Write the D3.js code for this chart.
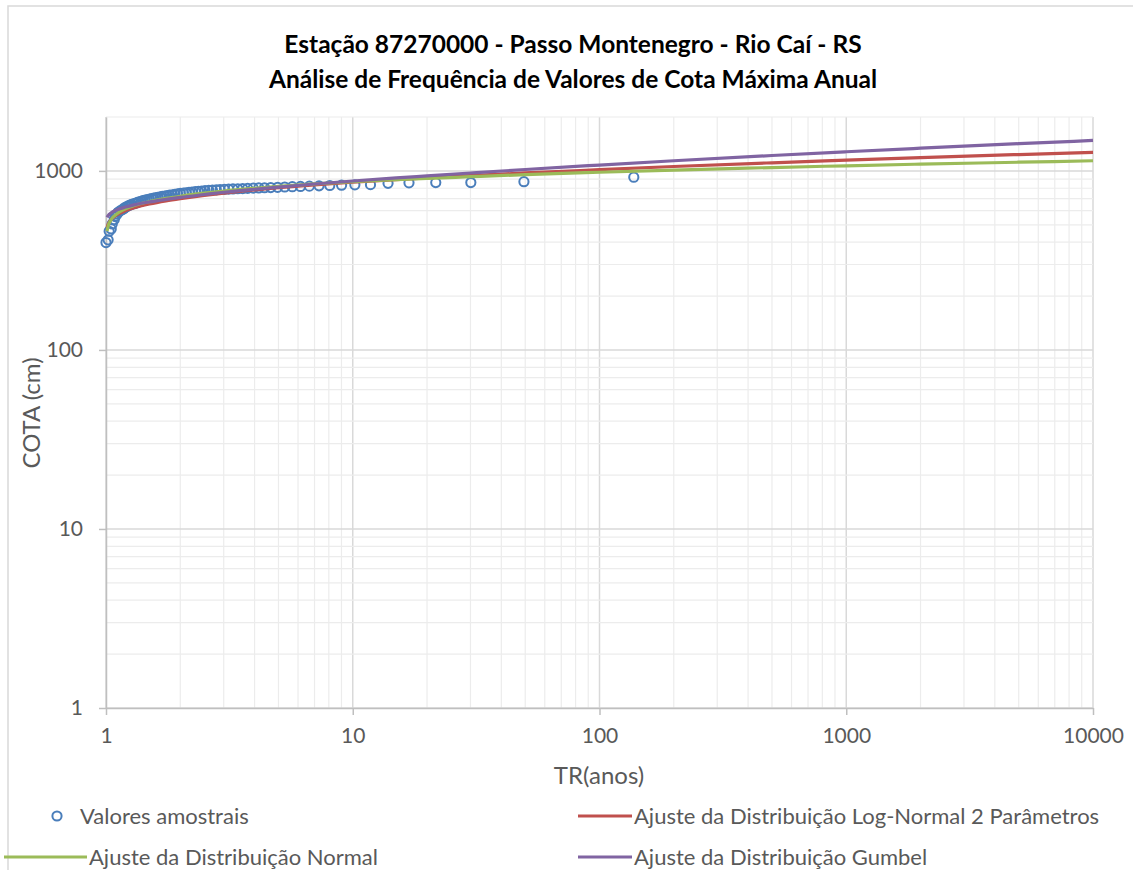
<!DOCTYPE html>
<html>
<head>
<meta charset="utf-8">
<script src="https://cdn.jsdelivr.net/npm/d3@7/dist/d3.min.js"></script>
<style>
  body { margin: 0; background: #fff; }
  svg { display: block; font-family: Lato, "Open Sans", sans-serif; }
</style>
</head>
<body>
<svg id="chart" width="1133" height="870"></svg>
<script>
// Valores amostrais (TR em anos, cota em cm)
const trAmostra = [1.00, 1.02, 1.03, 1.05, 1.06, 1.08, 1.09, 1.11, 1.12, 1.14, 1.16, 1.18, 1.19, 1.21,
  1.23, 1.25, 1.27, 1.30, 1.32, 1.34, 1.36, 1.39, 1.41, 1.44, 1.47, 1.50, 1.53, 1.56, 1.59, 1.62,
  1.66, 1.69, 1.73, 1.77, 1.81, 1.86, 1.90, 1.95, 2.00, 2.06, 2.11, 2.17, 2.23, 2.30, 2.37, 2.44,
  2.52, 2.61, 2.70, 2.80, 2.90, 3.02, 3.14, 3.27, 3.42, 3.58, 3.75, 3.95, 4.16, 4.39, 4.65, 4.96,
  5.30, 5.69, 6.14, 6.67, 7.30, 8.07, 9.01, 10.2, 11.8, 13.9, 16.9, 21.7, 30.1, 49.4, 137.7];
const cotaAmostra = [398, 412, 460, 474, 505, 535, 556, 574, 587, 598, 606, 614, 622, 630,
  638, 644, 650, 656, 661, 666, 672, 677, 682, 686, 691, 695, 700, 704, 708, 712,
  716, 720, 724, 728, 732, 736, 740, 744, 748, 751, 755, 758, 762, 765, 768, 772,
  775, 778, 781, 784, 787, 789, 791, 793, 795, 797, 799, 801, 803, 805, 807, 810,
  813, 816, 819, 822, 825, 829, 832, 836, 838, 852, 858, 860, 861, 870, 922];

// Curvas ajustadas
const trAjuste = [1.01, 1.02, 1.05, 1.1, 1.2, 1.3, 1.5, 1.75, 2, 2.5, 3, 4, 5, 7, 10, 15, 20, 30,
  50, 100, 200, 500, 1000, 2000, 5000, 10000];
const cotaLogNormal = [482, 503, 536, 565, 600, 622, 653, 680, 700, 730, 752, 783, 805, 836, 864,
  894, 914, 941, 974, 1016, 1058, 1110, 1148, 1186, 1234, 1269];
const cotaNormal = [461, 491, 535, 572, 614, 640, 674, 702, 722, 751, 772, 800, 820, 846, 870,
  893, 908, 928, 953, 983, 1011, 1044, 1068, 1091, 1118, 1139];
const cotaGumbel = [550, 563, 584, 604, 628, 646, 671, 693, 711, 738, 760, 790, 812, 845, 878,
  914, 938, 973, 1018, 1078, 1139, 1219, 1279, 1339, 1419, 1479];

const xTicks = [1, 10, 100, 1000, 10000];
const yTicks = [1, 10, 100, 1000];

const series = [
  { name: 'Ajuste da Distribuição Log-Normal 2 Parâmetros', values: cotaLogNormal, color: '#c0504d' },
  { name: 'Ajuste da Distribuição Normal', values: cotaNormal, color: '#9bbb59' },
  { name: 'Ajuste da Distribuição Gumbel', values: cotaGumbel, color: '#8064a2' }
];

const svg = d3.select('#chart');
const textColor = '#595959';

// moldura do gráfico
svg.append('rect')
  .attr('x', 8).attr('y', 6)
  .attr('width', 1140).attr('height', 900)
  .attr('fill', '#fff')
  .attr('stroke', '#d9d9d9')
  .attr('stroke-width', 1.5);

const x = d3.scaleLog().domain([1, 10000]).range([106, 1093]);
const y = d3.scaleLog().domain([1, 2000]).range([708, 117]);

const isMajor = v => Math.abs(Math.log10(v) - Math.round(Math.log10(v))) < 1e-9;

// grade secundária e principal
const grid = svg.append('g');
const xGrid = x.ticks();
const yGrid = y.ticks().filter(v => v <= 2000);
grid.selectAll('.gx')
  .data(xGrid)
  .enter().append('line')
  .attr('x1', d => x(d)).attr('x2', d => x(d))
  .attr('y1', y(2000)).attr('y2', y(1))
  .attr('stroke', d => isMajor(d) ? '#d9d9d9' : '#ececec')
  .attr('stroke-width', d => isMajor(d) ? 1.5 : 1.2);
grid.selectAll('.gy')
  .data(yGrid)
  .enter().append('line')
  .attr('x1', x(1)).attr('x2', x(10000))
  .attr('y1', d => y(d)).attr('y2', d => y(d))
  .attr('stroke', d => isMajor(d) ? '#d9d9d9' : '#ececec')
  .attr('stroke-width', d => isMajor(d) ? 1.5 : 1.2);

// eixos
const xAxis = svg.append('g')
  .attr('transform', `translate(0,${y(1)})`)
  .call(d3.axisBottom(x).tickValues(xTicks).tickFormat(d3.format('d')).tickSize(7).tickSizeOuter(0).tickPadding(9));
const yAxis = svg.append('g')
  .attr('transform', `translate(${x(1)},0)`)
  .call(d3.axisLeft(y).tickValues(yTicks).tickFormat(d3.format('d')).tickSize(7).tickSizeOuter(0).tickPadding(16));
[xAxis, yAxis].forEach(a => {
  a.select('.domain').attr('stroke', '#bfbfbf').attr('stroke-width', 1.5);
  a.selectAll('.tick line').attr('stroke', '#bfbfbf').attr('stroke-width', 1.5);
  a.selectAll('.tick text')
    .attr('fill', textColor)
    .style('font-size', '21px')
    .style('font-family', 'Lato, sans-serif');
});
xAxis.selectAll('.tick text').attr('dy', '0.9em');

// pontos amostrais
const amostra = trAmostra.map((t, i) => ({ t, v: cotaAmostra[i] }));
svg.append('g')
  .selectAll('circle')
  .data(amostra)
  .enter().append('circle')
  .attr('cx', d => x(d.t))
  .attr('cy', d => y(d.v))
  .attr('r', 4.6)
  .attr('fill', 'none')
  .attr('stroke', '#4a7ebb')
  .attr('stroke-width', 2);

// curvas ajustadas
const line = d3.line()
  .x(d => x(d.t))
  .y(d => y(d.v))
  .curve(d3.curveMonotoneX);
svg.append('g')
  .selectAll('path')
  .data(series)
  .enter().append('path')
  .attr('d', s => line(trAjuste.map((t, i) => ({ t, v: s.values[i] }))))
  .attr('fill', 'none')
  .attr('stroke', s => s.color)
  .attr('stroke-width', 3.2)
  .attr('stroke-linejoin', 'round');

// título
const title = svg.append('g')
  .attr('fill', '#000')
  .style('font-weight', 'bold')
  .style('font-size', '24.5px')
  .attr('text-anchor', 'middle');
title.append('text').attr('x', 573).attr('y', 53)
  .text('Estação 87270000 - Passo Montenegro - Rio Caí - RS');
title.append('text').attr('x', 573).attr('y', 88)
  .text('Análise de Frequência de Valores de Cota Máxima Anual');

// títulos dos eixos
svg.append('text')
  .attr('x', 599).attr('y', 784)
  .attr('text-anchor', 'middle')
  .attr('fill', textColor)
  .style('font-size', '24px')
  .text('TR(anos)');
svg.append('text')
  .attr('transform', 'translate(40,413) rotate(-90)')
  .attr('text-anchor', 'middle')
  .attr('fill', textColor)
  .style('font-size', '24px')
  .text('COTA (cm)');

// legenda
const legend = svg.append('g').style('font-size', '22px').attr('fill', textColor);
legend.append('circle')
  .attr('cx', 57).attr('cy', 816).attr('r', 4.6)
  .attr('fill', 'none').attr('stroke', '#4a7ebb').attr('stroke-width', 2);
legend.append('text').attr('x', 80).attr('y', 824).text('Valores amostrais');

const legendPos = [
  { x1: 578, x2: 632, y: 816 },
  { x1: 4, x2: 87, y: 857 },
  { x1: 578, x2: 632, y: 857 }
];
series.forEach((s, i) => {
  const p = legendPos[i];
  legend.append('line')
    .attr('x1', p.x1).attr('x2', p.x2)
    .attr('y1', p.y).attr('y2', p.y)
    .attr('stroke', s.color).attr('stroke-width', 3.2);
  legend.append('text').attr('x', p.x2 + 2).attr('y', p.y + 8).text(s.name);
});
</script>
</body>
</html>
